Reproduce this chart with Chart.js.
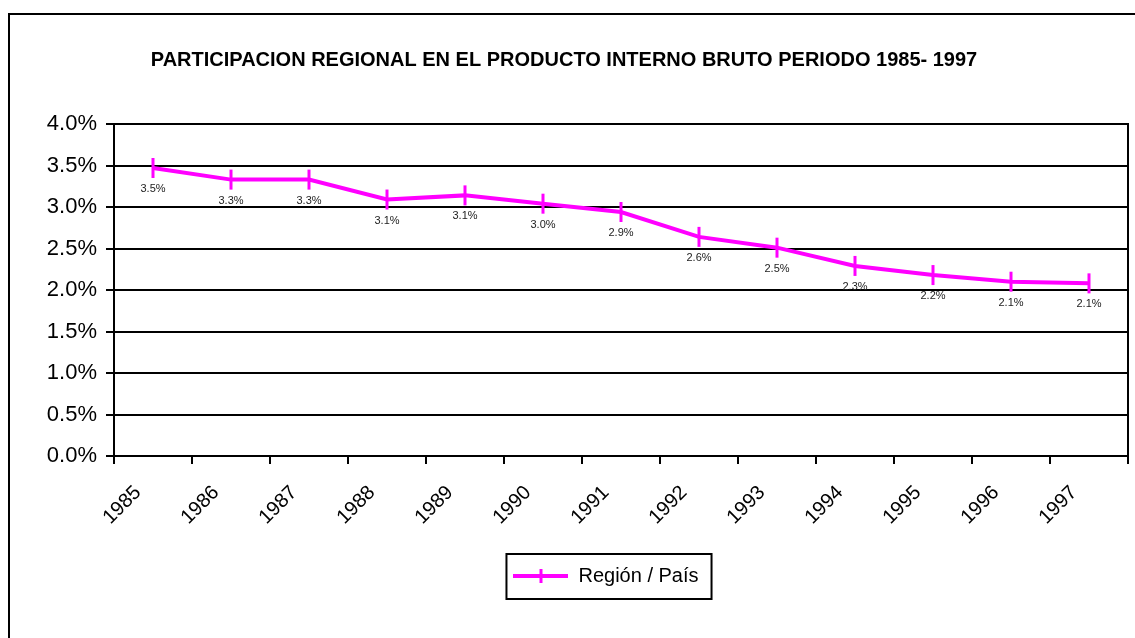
<!DOCTYPE html>
<html>
<head>
<meta charset="utf-8">
<script src="https://cdn.jsdelivr.net/npm/chart.js@4"></script>
<style>
  html, body { margin: 0; padding: 0; background: #fff; overflow: hidden; }
  #marco { position: absolute; left: 8px; top: 13px; width: 1300px; height: 800px; border: 2px solid #000; }
  #wrap { position: absolute; left: 0; top: 0; width: 1135px; height: 638px; }
</style>
</head>
<body>
<div id="marco"></div>
<div id="wrap"><canvas id="pib-chart" width="1135" height="638"></canvas></div>
<script>
// Datos del gráfico
const anios = ['1985', '1986', '1987', '1988', '1989', '1990', '1991', '1992', '1993', '1994', '1995', '1996', '1997'];
const participacion = [3.47, 3.33, 3.33, 3.09, 3.14, 3.04, 2.94, 2.64, 2.51, 2.29, 2.18, 2.10, 2.08];
const ejeMin = 0, ejeMax = 4, ejePaso = 0.5;
const titulo = 'PARTICIPACION REGIONAL EN EL PRODUCTO INTERNO BRUTO PERIODO 1985- 1997';
const serie = 'Región / País';

const magenta = '#ff00ff';
const fuente = 'Arial, "Liberation Sans", sans-serif';

// muestra de la leyenda: línea con marca vertical
const muestra = document.createElement('canvas');
muestra.width = 55; muestra.height = 14;
const mctx = muestra.getContext('2d');
mctx.strokeStyle = magenta;
mctx.lineWidth = 4;
mctx.beginPath(); mctx.moveTo(0, 7); mctx.lineTo(55, 7); mctx.stroke();
mctx.lineWidth = 3;
mctx.beginPath(); mctx.moveTo(27.5, 0); mctx.lineTo(27.5, 14); mctx.stroke();

// etiquetas de valor debajo de cada punto
const etiquetas = {
    id: 'etiquetas',
    afterDatasetsDraw(chart) {
        const ctx = chart.ctx;
        const meta = chart.getDatasetMeta(0);
        ctx.save();
        ctx.font = '11px ' + fuente;
        ctx.fillStyle = '#222';
        ctx.textAlign = 'center';
        ctx.textBaseline = 'middle';
        meta.data.forEach((pt, i) => {
            ctx.fillText(participacion[i].toFixed(1) + '%', pt.x, pt.y + 21);
        });
        ctx.restore();
    }
};

// la leyenda queda un poco a la izquierda del centro del área
const moverLeyenda = {
    id: 'moverLeyenda',
    afterLayout(chart) {
        const lg = chart.legend;
        lg.left -= 15;
        lg.right -= 15;
    }
};

// borde derecho del área y recuadro de la leyenda
const bordes = {
    id: 'bordes',
    afterDraw(chart) {
        const ctx = chart.ctx;
        const a = chart.chartArea;
        ctx.save();
        ctx.strokeStyle = '#000';
        ctx.lineWidth = 2;
        ctx.beginPath();
        ctx.moveTo(a.right, a.top - 1);
        ctx.lineTo(a.right, a.bottom + 8);
        ctx.stroke();
        const hb = chart.legend.legendHitBoxes[0];
        if (hb) {
            const cy = hb.top + hb.height / 2;
            ctx.strokeRect(hb.left - 7, cy - 22, hb.width + 20, 45);
        }
        ctx.restore();
    }
};

const ctx = document.getElementById('pib-chart').getContext('2d');
const pibChart = new Chart(ctx, {
    type: 'line',
    data: {
        labels: anios,
        datasets: [{
            label: serie,
            data: participacion,
            borderColor: magenta,
            backgroundColor: magenta,
            borderWidth: 4,
            tension: 0,
            pointStyle: 'line',
            pointRotation: 90,
            pointRadius: 10,
            pointBorderWidth: 3,
            pointBorderColor: magenta
        }]
    },
    options: {
        responsive: false,
        animation: false,
        events: [],
        layout: { autoPadding: false, padding: { left: 0, right: 7, top: 0, bottom: 42 } },
        scales: {
            x: {
                offset: true,
                grid: { offset: true, drawOnChartArea: false, color: '#000', lineWidth: 2, tickLength: 8 },
                border: { color: '#000', width: 2 },
                ticks: { color: '#000', font: { family: fuente, size: 20 }, minRotation: 45, maxRotation: 45, padding: 17, labelOffset: -15 },
                afterFit(scale) {
                    scale.height = 100;
                    scale.paddingLeft = 0;
                    scale.paddingRight = 0;
                }
            },
            y: {
                min: ejeMin,
                max: ejeMax,
                grid: { color: '#000', lineWidth: 2, tickLength: 8 },
                border: { color: '#000', width: 2 },
                ticks: {
                    stepSize: ejePaso,
                    color: '#000',
                    padding: 9,
                    font: { family: fuente, size: 22 },
                    callback: v => v.toFixed(1) + '%'
                },
                afterFit(scale) { scale.width = 114; }
            }
        },
        plugins: {
            title: {
                display: true,
                text: titulo,
                color: '#000',
                font: { family: fuente, size: 20, weight: 'bold' },
                padding: { top: 48, bottom: 52 }
            },
            legend: {
                position: 'bottom',
                fullSize: false,
                labels: {
                    color: '#000',
                    font: { family: fuente, size: 20 },
                    usePointStyle: true,
                    pointStyle: muestra,
                    pointStyleWidth: 55,
                    padding: 10,
                    generateLabels(chart) {
                        return Chart.defaults.plugins.legend.labels.generateLabels(chart)
                            .map(l => Object.assign(l, { rotation: 0, pointStyle: muestra }));
                    }
                }
            },
            tooltip: { enabled: false }
        }
    },
    plugins: [etiquetas, moverLeyenda, bordes]
});
</script>
</body>
</html>
